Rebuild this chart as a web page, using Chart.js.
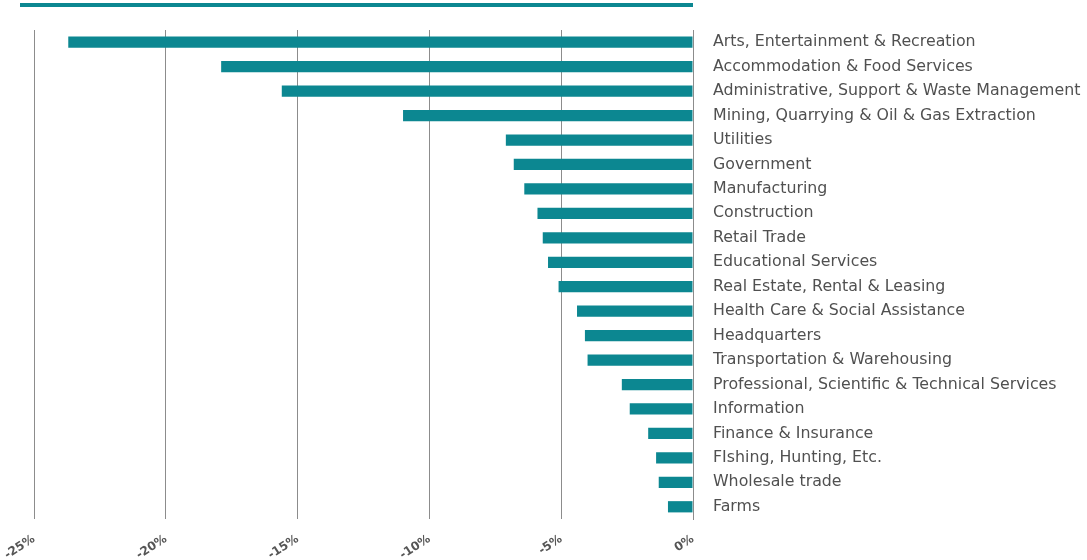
<!DOCTYPE html>
<html>
<head>
<meta charset="utf-8">
<script src="https://cdn.jsdelivr.net/npm/chart.js@4"></script>
<style>
  html, body { margin: 0; padding: 0; background: #fff; }
  #wrap { position: relative; width: 1087px; height: 560px; }
</style>
</head>
<body>
<div id="wrap"><canvas id="chart" width="1087" height="560"></canvas></div>
<script>
// 業種ごとの変化率（%）
const industries = [
  "Arts, Entertainment & Recreation",
  "Accommodation & Food Services",
  "Administrative, Support & Waste Management",
  "Mining, Quarrying & Oil & Gas Extraction",
  "Utilities",
  "Government",
  "Manufacturing",
  "Construction",
  "Retail Trade",
  "Educational Services",
  "Real Estate, Rental & Leasing",
  "Health Care & Social Assistance",
  "Headquarters",
  "Transportation & Warehousing",
  "Professional, Scientific & Technical Services",
  "Information",
  "Finance & Insurance",
  "FIshing, Hunting, Etc.",
  "Wholesale trade",
  "Farms"
];
const changes = [-23.7, -17.9, -15.6, -11.0, -7.1, -6.8, -6.4, -5.9, -5.7, -5.5,
                 -5.1, -4.4, -4.1, -4.0, -2.7, -2.4, -1.7, -1.4, -1.3, -0.95];
const xTicks = [-25, -20, -15, -10, -5, 0];

const TEAL = "#0c8791";

// 上部の帯
const topBar = {
  id: "topBar",
  afterDraw(chart) {
    const { ctx, chartArea } = chart;
    ctx.save();
    ctx.fillStyle = TEAL;
    ctx.fillRect(20, 3, chartArea.right - 20, 4);
    ctx.restore();
  }
};

new Chart(document.getElementById("chart").getContext("2d"), {
  type: "bar",
  data: {
    labels: industries,
    datasets: [{
      data: changes,
      backgroundColor: TEAL,
      barPercentage: 0.46,
      categoryPercentage: 1
    }]
  },
  options: {
    indexAxis: "y",
    responsive: false,
    animation: false,
    layout: { padding: { top: 30, left: 34 } },
    plugins: { legend: { display: false }, tooltip: { enabled: false } },
    scales: {
      x: {
        min: -25,
        max: 0,
        afterBuildTicks: axis => { axis.ticks = xTicks.map(v => ({ value: v })); },
        afterFit: axis => {
          axis.height = 41;
          axis.paddingLeft = 0;
          axis.paddingRight = 0;
        },
        grid: { color: "#8c8c8c", drawTicks: false, lineWidth: 1 },
        border: { display: false },
        ticks: {
          minRotation: 33,
          maxRotation: 33,
          padding: 13,
          color: "#555",
          font: { family: "DejaVu Sans", size: 12, weight: "bold" },
          callback: v => v + "%"
        }
      },
      y: {
        position: "right",
        afterFit: axis => { axis.width = 394; },
        grid: { display: false, drawTicks: false },
        border: { display: true, color: "#8c8c8c" },
        ticks: {
          padding: 20,
          color: "#505050",
          font: { family: "DejaVu Sans", size: 15.8 }
        }
      }
    }
  },
  plugins: [topBar]
});
</script>
</body>
</html>
